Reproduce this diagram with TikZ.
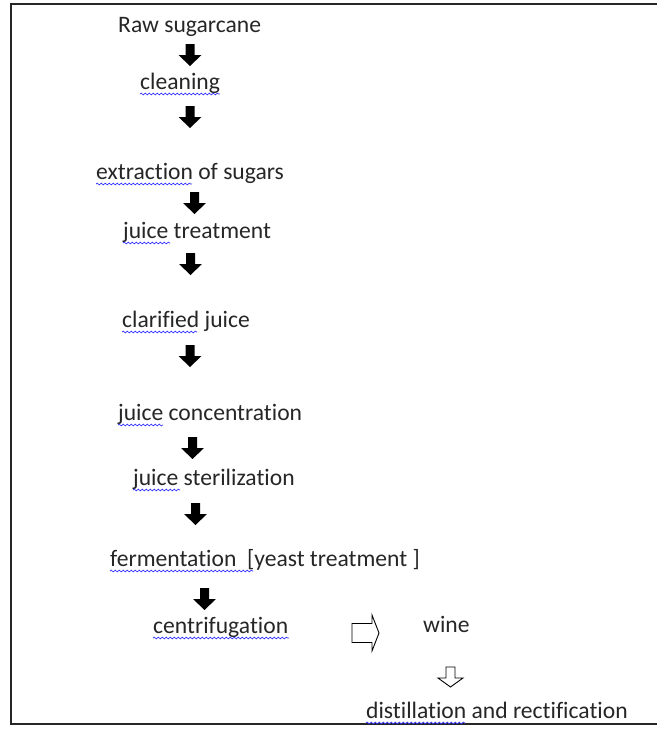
\documentclass[tikz,border=0pt]{standalone}
\usepackage{fontspec}
\setmainfont[Ligatures={NoCommon}]{Carlito}
\usetikzlibrary{decorations.pathmorphing}

\begin{document}
\begin{tikzpicture}[x=1pt,y=-1pt,line join=miter,
% Styles
stage/.style={anchor=base west,inner sep=0pt,font=\fontsize{23.6}{28}\selectfont,text=black!85},
spell/.style={blue!80!white,line width=0.7pt,decorate,decoration={snake,segment length=4pt,amplitude=0.9pt}},
frame/.style={line width=1.3pt,black!85},
% Arrow shapes
pics/blackdown/.style={code={\fill (-4.5,0) -- (4.5,0) -- (4.5,11) -- (11.5,11) -- (0,22) -- (-11.5,11) -- (-4.5,11) -- cycle;}},
pics/whiteright/.style={code={\draw[fill=white,line width=0.9pt] (0,-9.5) -- (20,-9.5) -- (20,-18) -- (27,0) -- (20,18) -- (20,9.5) -- (0,9.5) -- cycle;}},
pics/whitedown/.style={code={\draw[fill=white,line width=0.9pt] (-4.5,0) -- (4.5,0) -- (4.5,11) -- (12.5,11) -- (0,20) -- (-12.5,11) -- (-4.5,11) -- cycle;}}]
\useasboundingbox (0,0) rectangle (657,729);
% Frame
\draw[frame] (657,4) -- (11,4) -- (11,724) -- (657,724);
% Stages
\node[stage] (raw) at (118,32) {Raw sugarcane};
\node[stage] (clean) at (140,89) {cleaning};
\node[stage] (extract) at (96,179) {extraction of sugars};
\node[stage] (treat) at (123,238) {juice treatment};
\node[stage] (clarif) at (122,327) {clarified juice};
\node[stage] (conc) at (118,420) {juice concentration};
\node[stage] (steril) at (133,485) {juice sterilization};
\node[stage] (ferm) at (110,566) {fermentation\ \ [yeast treatment ]};
\node[stage] (centri) at (153,633) {centrifugation};
\node[stage] (wine) at (423,632) {wine};
\node[stage] (distil) at (366,718) {distillation and rectification};
% Spelling marks
\foreach \n/\w in {clean/80, extract/96, treat/47, clarif/75, conc/45, steril/47, ferm/143, centri/136, distil/99}
    \draw[spell] ([yshift=-5pt]\n.base west) -- ++(\w,0);
% Arrows
\foreach \x/\y in {190/44, 190/106, 194.5/192, 190.5/253, 190/345, 192.5/437, 195.5/503, 204.5/588}
    \pic at (\x,\y) {blackdown};
\pic at (352,633) {whiteright};
\pic at (450.5,667) {whitedown};
\end{tikzpicture}
\end{document}
